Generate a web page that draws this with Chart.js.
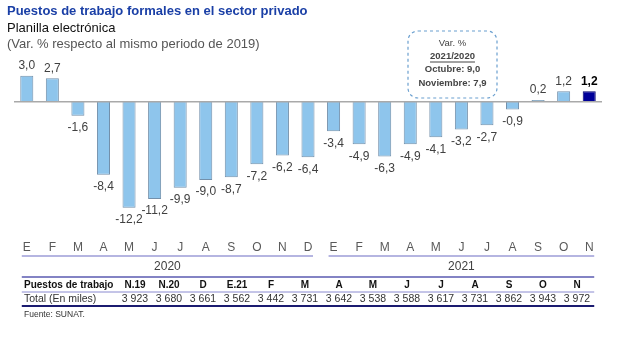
<!DOCTYPE html>
<html>
<head>
<meta charset="utf-8">
<script src="https://cdn.jsdelivr.net/npm/chart.js@4"></script>
<style>
  html, body { margin: 0; padding: 0; background: #fff; }
  canvas { display: block; }
</style>
</head>
<body>
<canvas id="chart" width="620" height="344"></canvas>
<script>
// Puestos de trabajo formales - var. % respecto a 2019

const months = ["E", "F", "M", "A", "M", "J", "J", "A", "S", "O", "N", "D",
  "E", "F", "M", "A", "M", "J", "J", "A", "S", "O", "N"];
const values = [3.0, 2.7, -1.6, -8.4, -12.2, -11.2, -9.9, -9.0, -8.7, -7.2, -6.2, -6.4,
  -3.4, -4.9, -6.3, -4.9, -4.1, -3.2, -2.7, -0.9, 0.2, 1.2, 1.2];
const years = ["2020", "2021"];
const yearStart = [0, 12]; // first month index of each year
const yearEnd = [11, 22];

const tableHeaders = ["N.19", "N.20", "D", "E.21", "F", "M", "A", "M", "J", "J", "A", "S", "O", "N"];
const tableValues = ["3 923", "3 680", "3 661", "3 562", "3 442", "3 731", "3 642",
  "3 538", "3 588", "3 617", "3 731", "3 862", "3 943", "3 972"];
const boxLines = ["Var. %", "2021/2020", "Octubre: 9,0", "Noviembre: 7,9"];

const FONT = "'Liberation Sans', Arial, sans-serif";
const lastIdx = values.length - 1;

const barFill = values.map((v, i) => (i === lastIdx ? "#000099" : "#8ec5ec"));
const barBorder = values.map((v, i) => (i === lastIdx ? "#00006e" : "#7390ab"));

const decorPlugin = {
  id: "decor",
  afterDatasetsDraw(chart) {
    const ctx = chart.ctx;
    const x = chart.scales.x;
    const y = chart.scales.y;
    const area = chart.chartArea;
    ctx.save();

    // zero line
    const y0 = y.getPixelForValue(0);
    ctx.strokeStyle = "#a9a9a9";
    ctx.lineWidth = 1.5;
    ctx.beginPath();
    ctx.moveTo(area.left, y0);
    ctx.lineTo(area.right, y0);
    ctx.stroke();

    // value labels
    const meta = chart.getDatasetMeta(0);
    ctx.textAlign = "center";
    ctx.textBaseline = "middle";
    meta.data.forEach((bar, i) => {
      const v = values[i];
      const txt = v.toFixed(1).replace(".", ",");
      ctx.font = (i === lastIdx ? "bold " : "") + "12px " + FONT;
      ctx.fillStyle = i === lastIdx ? "#000" : "#404040";
      const ty = v >= 0 ? bar.y - 10 : bar.y + 12;
      ctx.fillText(txt, bar.x, ty);
    });

    // month labels
    ctx.font = "12px " + FONT;
    ctx.fillStyle = "#595959";
    months.forEach((m, i) => {
      ctx.fillText(m, x.getPixelForValue(i), 248);
    });

    // year segments
    ctx.strokeStyle = "#6c6cc4";
    ctx.lineWidth = 1.2;
    years.forEach((yr, k) => {
      const l = x.getPixelForValue(yearStart[k]) - 5;
      const r = x.getPixelForValue(yearEnd[k]) + 5;
      ctx.beginPath();
      ctx.moveTo(l, 256);
      ctx.lineTo(r, 256);
      ctx.stroke();
      ctx.fillStyle = "#404040";
      ctx.fillText(yr, (l + r) / 2, 267);
    });

    // table
    const tl = x.getPixelForValue(0) - 5;
    const tr = x.getPixelForValue(lastIdx) + 5;
    ctx.strokeStyle = "#5a5ab0";
    ctx.lineWidth = 1.5;
    ctx.beginPath();
    ctx.moveTo(tl, 277);
    ctx.lineTo(tr, 277);
    ctx.stroke();
    ctx.strokeStyle = "#8a8ad0";
    ctx.lineWidth = 1;
    ctx.beginPath();
    ctx.moveTo(tl, 292);
    ctx.lineTo(tr, 292);
    ctx.stroke();
    ctx.strokeStyle = "#1b1b70";
    ctx.lineWidth = 2;
    ctx.beginPath();
    ctx.moveTo(tl, 306);
    ctx.lineTo(tr, 306);
    ctx.stroke();

    ctx.textAlign = "left";
    ctx.fillStyle = "#111";
    ctx.font = "bold 10px " + FONT;
    ctx.fillText("Puestos de trabajo", 24, 285);
    ctx.font = "10.5px " + FONT;
    ctx.fillStyle = "#333";
    ctx.fillText("Total (En miles)", 24, 299);

    ctx.textAlign = "center";
    tableHeaders.forEach((h, i) => {
      const cx = 135 + i * 34;
      ctx.font = "bold 10px " + FONT;
      ctx.fillStyle = "#111";
      ctx.fillText(h, cx, 285);
      ctx.font = "10.5px " + FONT;
      ctx.fillStyle = "#333";
      ctx.fillText(tableValues[i], cx, 299);
    });

    ctx.textAlign = "left";
    ctx.font = "8.5px " + FONT;
    ctx.fillStyle = "#333";
    ctx.fillText("Fuente: SUNAT.", 24, 315);

    // titles
    ctx.font = "bold 13px " + FONT;
    ctx.fillStyle = "#1a3fa6";
    ctx.fillText("Puestos de trabajo formales en el sector privado", 7, 11);
    ctx.font = "13px " + FONT;
    ctx.fillStyle = "#111";
    ctx.fillText("Planilla electrónica", 7, 28);
    ctx.fillStyle = "#555";
    ctx.fillText("(Var. % respecto al mismo periodo de 2019)", 7, 44);

    // annotation box
    ctx.setLineDash([3, 3]);
    ctx.strokeStyle = "#6a9fcf";
    ctx.lineWidth = 1.2;
    ctx.beginPath();
    ctx.roundRect(408, 31, 89, 67, 10);
    ctx.stroke();
    ctx.setLineDash([]);
    ctx.textAlign = "center";
    ctx.fillStyle = "#444";
    const cx = 452.5;
    const ys = [43, 56, 69, 83];
    boxLines.forEach((t, i) => {
      ctx.font = (i === 0 ? "" : "bold ") + "9.5px " + FONT;
      ctx.fillText(t, cx, ys[i]);
      if (i === 1) {
        const w = ctx.measureText(t).width;
        ctx.lineWidth = 1;
        ctx.strokeStyle = "#444";
        ctx.beginPath();
        ctx.moveTo(cx - w / 2, ys[i] + 6);
        ctx.lineTo(cx + w / 2, ys[i] + 6);
        ctx.stroke();
      }
    });

    ctx.restore();
  },
};

new Chart(document.getElementById("chart"), {
  type: "bar",
  data: {
    labels: months,
    datasets: [
      {
        data: values,
        backgroundColor: barFill,
        borderColor: barBorder,
        borderWidth: 1,
        categoryPercentage: 1,
        barPercentage: 0.51,
      },
    ],
  },
  options: {
    responsive: false,
    animation: false,
    layout: { padding: { left: 14, right: 18, top: 67, bottom: 125 } },
    plugins: {
      legend: { display: false },
      tooltip: { enabled: false },
    },
    scales: {
      x: { display: false },
      y: { display: false, min: -13.5, max: 4 },
    },
  },
  plugins: [decorPlugin],
});
</script>
</body>
</html>
